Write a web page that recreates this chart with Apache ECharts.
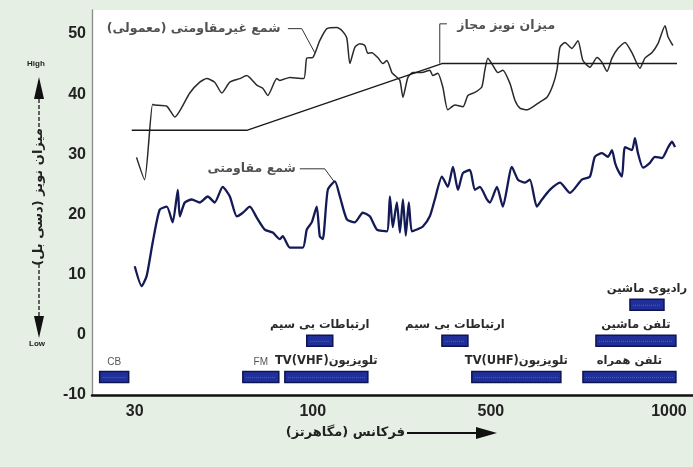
<!DOCTYPE html>
<html>
<head>
<meta charset="utf-8">
<script src="https://cdn.jsdelivr.net/npm/echarts@6/dist/echarts.min.js"></script>
<style>
  html, body { margin: 0; padding: 0; background: #e6efe3; }
  #chart { width: 693px; height: 467px; }
</style>
</head>
<body>
<div id="chart"></div>
<script>
// Frequency axis: tick positions and their MHz labels
const freqTickPos = [1, 2, 3, 4];
const freqTickLabels = ['30', '100', '500', '1000'];
const dbTicks = [-10, 0, 10, 20, 30, 40, 50];

// Ignition noise, ordinary (non-resistive) plugs
const ordinaryPos = [1.01, 1.055, 1.10, 1.11, 1.18, 1.225, 1.309, 1.365, 1.404, 1.449, 1.489, 1.534, 1.590, 1.629, 1.685, 1.719, 1.747, 1.798, 1.815, 1.871, 1.949, 1.966, 2.0, 2.039, 2.079, 2.135, 2.163, 2.191, 2.208, 2.236, 2.264, 2.292, 2.309, 2.331, 2.365, 2.393, 2.416, 2.444, 2.461, 2.489, 2.506, 2.534, 2.562, 2.612, 2.657, 2.674, 2.702, 2.730, 2.758, 2.798, 2.843, 2.871, 2.910, 2.949, 2.966, 2.983, 3.011, 3.039, 3.067, 3.107, 3.135, 3.163, 3.202, 3.236, 3.275, 3.315, 3.348, 3.371, 3.388, 3.416, 3.455, 3.489, 3.517, 3.556, 3.596, 3.624, 3.652, 3.680, 3.713, 3.753, 3.792, 3.837, 3.865, 3.904, 3.938, 3.978, 3.994, 4.022];
const ordinaryDb = [29.5, 25.8, 38.3, 38.2, 38.0, 36.2, 40.2, 42.0, 42.6, 42.0, 40.2, 42.0, 42.6, 43.1, 41.5, 41.0, 39.8, 42.6, 42.3, 42.8, 42.6, 46.0, 46.1, 48.9, 50.9, 51.1, 50.6, 49.3, 45.1, 47.8, 48.4, 48.1, 46.8, 46.9, 46.1, 45.1, 45.6, 43.6, 43.1, 42.3, 39.5, 42.8, 43.6, 43.6, 44.0, 43.1, 43.5, 41.2, 37.4, 38.2, 37.9, 39.8, 40.3, 41.2, 44.0, 46.0, 44.8, 43.6, 44.0, 41.8, 39.0, 37.7, 37.4, 37.9, 38.7, 39.5, 41.5, 44.0, 47.8, 48.6, 47.6, 48.9, 45.6, 44.5, 46.1, 45.3, 43.8, 46.0, 47.6, 48.6, 46.9, 44.3, 46.0, 46.9, 48.4, 51.4, 49.6, 48.1];

// Ignition noise, resistive plugs
const resistivePos = [1.000, 1.039, 1.067, 1.101, 1.140, 1.180, 1.213, 1.242, 1.253, 1.281, 1.320, 1.365, 1.410, 1.449, 1.494, 1.534, 1.573, 1.607, 1.646, 1.685, 1.730, 1.775, 1.815, 1.831, 1.871, 1.944, 1.966, 1.994, 2.022, 2.039, 2.056, 2.084, 2.124, 2.152, 2.191, 2.236, 2.281, 2.320, 2.360, 2.416, 2.433, 2.449, 2.472, 2.489, 2.506, 2.522, 2.539, 2.556, 2.584, 2.618, 2.657, 2.685, 2.725, 2.758, 2.787, 2.815, 2.843, 2.882, 2.910, 2.938, 2.978, 2.994, 3.034, 3.067, 3.118, 3.152, 3.191, 3.219, 3.258, 3.287, 3.331, 3.388, 3.444, 3.511, 3.556, 3.584, 3.624, 3.657, 3.680, 3.697, 3.713, 3.736, 3.753, 3.792, 3.809, 3.826, 3.854, 3.893, 3.921, 3.961, 3.994, 4.017, 4.034];
const resistiveDb = [11.4, 8.1, 9.8, 15.4, 20.8, 21.3, 18.7, 24.1, 19.7, 22.0, 22.5, 22.0, 23.0, 22.0, 24.6, 23.0, 19.7, 20.3, 21.3, 19.5, 17.5, 17.0, 15.9, 16.4, 14.5, 14.5, 17.5, 18.7, 21.3, 16.4, 15.9, 24.1, 25.5, 23.0, 19.2, 18.7, 20.3, 19.7, 17.5, 17.2, 23.0, 17.9, 22.0, 17.0, 22.5, 16.5, 22.0, 17.2, 17.5, 18.0, 19.7, 22.5, 26.3, 24.6, 27.9, 24.1, 26.9, 27.4, 24.1, 24.6, 22.5, 22.0, 24.6, 21.3, 27.9, 25.8, 25.3, 25.8, 21.3, 22.5, 24.1, 25.3, 23.6, 25.8, 26.3, 29.6, 30.2, 29.6, 30.7, 28.6, 27.4, 26.3, 31.2, 30.7, 32.7, 30.2, 27.8, 28.6, 29.6, 29.4, 31.1, 32.1, 31.2];

// Permitted noise level
const limitPos = [0.983, 1.629, 2.725, 4.045];
const limitDb = [34.0, 34.0, 45.1, 45.1];

// Radio service bands
const bandNames = ['CB', 'FM', 'TV(VHF)تلویزیون', 'ارتباطات بی سیم', 'ارتباطات بی سیم', 'TV(UHF)تلویزیون', 'تلفن همراه', 'تلفن ماشین', 'رادیوی ماشین'];
const bandStart = [0.803, 1.607, 1.843, 1.966, 2.725, 2.893, 3.517, 3.590, 3.781];
const bandEnd = [0.966, 1.809, 2.309, 2.112, 2.871, 3.393, 4.039, 4.039, 3.972];
const bandRow = [-7, -7, -7, -1, -1, -7, -7, -1, 5];

// Curve captions and their leader lines
const noteText = ['شمع غیرمقاومتی (معمولی)\u200F', 'شمع مقاومتی', 'میزان نویز مجاز'];
const notePos = [1.83, 1.916, 2.80];
const noteDb = [50.9, 27.6, 51.4];
const leaderOrdinaryPos = [1.860, 1.938, 2.011];
const leaderOrdinaryDb = [50.9, 50.9, 46.9];
const leaderResistivePos = [1.927, 2.067, 2.124];
const leaderResistiveDb = [27.6, 27.6, 25.3];
const leaderLimitPos = [2.753, 2.713, 2.713];
const leaderLimitDb = [51.7, 51.7, 45.1];

const zip = (xs, ys) => xs.map((x, i) => [x, ys[i]]);
const faFont = '"DejaVu Sans", "Noto Sans", sans-serif';
const numFont = '"Liberation Sans", Arial, sans-serif';

const chart = echarts.init(document.getElementById('chart'), null, { renderer: 'canvas' });

function leader(pos, db) {
  return {
    type: 'line', data: zip(pos, db), symbol: 'none', silent: true, z: 4,
    lineStyle: { color: '#333', width: 1 }
  };
}

const option = {
  backgroundColor: '#e6efe3',
  animation: false,
  grid: { left: 92, right: 0, top: 10, bottom: 72, show: true, backgroundColor: '#ffffff', borderWidth: 0 },
  xAxis: {
    type: 'value', min: 0.76, max: 4.135,
    splitLine: { show: false },
    axisTick: { show: false },
    axisLine: { onZero: false, lineStyle: { color: '#111', width: 2.5 } },
    axisLabel: {
      customValues: freqTickPos,
      formatter: v => freqTickLabels[freqTickPos.indexOf(v)] || '',
      fontFamily: numFont, fontWeight: 'bold', fontSize: 16, color: '#222', margin: 9
    }
  },
  yAxis: {
    type: 'value', min: -10, max: 54,
    splitLine: { show: false },
    axisTick: { show: false },
    axisLine: { show: true, lineStyle: { color: '#8a8a8a', width: 1.3 } },
    axisLabel: {
      customValues: dbTicks,
      fontFamily: numFont, fontWeight: 'bold', fontSize: 16, color: '#222', margin: 6
    }
  },
  series: [
    {
      type: 'line', name: 'ordinary', data: zip(ordinaryPos, ordinaryDb), symbol: 'none', smooth: 0.2,
      lineStyle: { color: '#2a2a2a', width: 1.5 }, z: 3
    },
    {
      type: 'line', name: 'limit', data: zip(limitPos, limitDb), symbol: 'none',
      lineStyle: { color: '#1a1a1a', width: 1.4 }, z: 3
    },
    {
      type: 'line', name: 'resistive', data: zip(resistivePos, resistiveDb), symbol: 'none', smooth: 0.2,
      lineStyle: { color: '#141a55', width: 2.3 }, z: 3
    },
    leader(leaderOrdinaryPos, leaderOrdinaryDb),
    leader(leaderResistivePos, leaderResistiveDb),
    leader(leaderLimitPos, leaderLimitDb),
    {
      type: 'scatter', symbolSize: 0, silent: true, z: 5,
      data: noteText.map((t, i) => ({
        name: t, value: [notePos[i], noteDb[i]],
        label: { position: i === 2 ? 'right' : 'left' }
      })),
      label: {
        show: true, distance: 2, formatter: p => p.name,
        fontFamily: faFont, fontSize: 12.5, fontWeight: 'bold', color: '#262626'
      }
    },
    {
      type: 'custom', name: 'bands', silent: true, z: 6,
      data: bandNames.map((n, i) => [bandStart[i], bandEnd[i], bandRow[i], i]),
      encode: { x: [0, 1], y: 2 },
      renderItem: function (params, api) {
        const s = api.coord([api.value(0), api.value(2)]);
        const e = api.coord([api.value(1), api.value(2)]);
        const h = 11;
        const name = bandNames[api.value(3)];
        const latin = /^[A-Z]+$/.test(name);
        return {
          type: 'group',
          children: [
            { type: 'rect', shape: { x: s[0], y: s[1] - h / 2, width: e[0] - s[0], height: h },
              style: { fill: '#20309a', stroke: '#0d1450', lineWidth: 1.5 } },
            { type: 'line', shape: { x1: s[0] + 3, y1: s[1] + 0.5, x2: e[0] - 3, y2: s[1] + 0.5 },
              style: { stroke: '#4d63c4', lineWidth: 1, lineDash: [1, 1] } },
            { type: 'text', style: {
                text: name, x: (s[0] + e[0]) / 2, y: s[1] - h / 2 - 4,
                align: 'center', verticalAlign: 'bottom',
                fontFamily: latin ? numFont : faFont,
                fontSize: latin ? 10 : 11.5, fontWeight: latin ? 'normal' : 'bold',
                fill: latin ? '#555' : '#2a2a2a'
              } }
          ]
        };
      }
    }
  ],
  graphic: [
    // vertical axis caption with High / Low arrows
    { type: 'text', left: 27, top: 60, style: { text: 'High', fontFamily: numFont, fontSize: 8, fontWeight: 'bold', fill: '#222' } },
    { type: 'polygon', shape: { points: [[39, 77], [34, 99], [44, 99]] }, style: { fill: '#111' } },
    { type: 'line', shape: { x1: 39, y1: 99, x2: 39, y2: 130 }, style: { stroke: '#333', lineWidth: 1.5, lineDash: [4, 2] } },
    { type: 'text', x: 39, y: 197, rotation: Math.PI / 2,
      style: { text: 'میزان نویز (دسی بل)\u200F', align: 'center', verticalAlign: 'middle',
               fontFamily: faFont, fontSize: 13, fontWeight: 'bold', fill: '#222' } },
    { type: 'line', shape: { x1: 39, y1: 264, x2: 39, y2: 316 }, style: { stroke: '#333', lineWidth: 1.5, lineDash: [4, 2] } },
    { type: 'polygon', shape: { points: [[34, 316], [44, 316], [39, 338]] }, style: { fill: '#111' } },
    { type: 'text', left: 29, top: 340, style: { text: 'Low', fontFamily: numFont, fontSize: 8, fontWeight: 'bold', fill: '#222' } },
    // horizontal axis caption with arrow
    { type: 'text', x: 405, y: 433,
      style: { text: 'فرکانس (مگاهرتز)\u200F', align: 'right', verticalAlign: 'middle',
               fontFamily: faFont, fontSize: 13, fontWeight: 'bold', fill: '#222' } },
    { type: 'line', shape: { x1: 407, y1: 433, x2: 482, y2: 433 }, style: { stroke: '#111', lineWidth: 2 } },
    { type: 'polygon', shape: { points: [[476, 427], [497, 433], [476, 439]] }, style: { fill: '#111' } }
  ]
};

chart.setOption(option);
</script>
</body>
</html>
